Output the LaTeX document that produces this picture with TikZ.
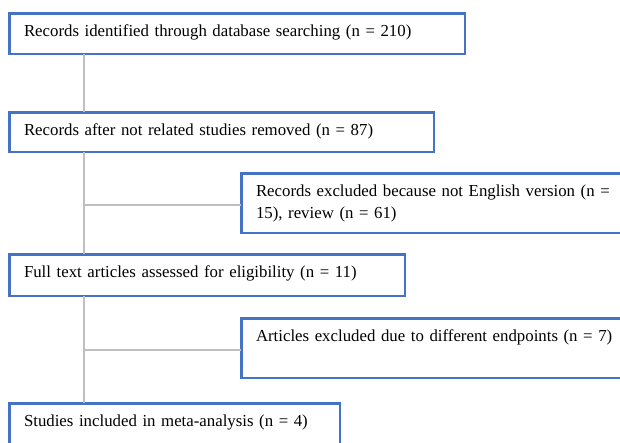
\documentclass[tikz,border=0pt]{standalone}
\usepackage{fontspec}
\setmainfont{Liberation Serif}
\definecolor{boxblue}{RGB}{68,114,196}
\definecolor{linkgray}{RGB}{191,191,191}
\newcommand\stagefont{\fontsize{16.8}{22}\selectfont}
\begin{document}
\begin{tikzpicture}[x=1pt, y=1pt,
    stage/.style={draw=boxblue, line width=2.5pt, anchor=north west, outer sep=0pt,
        inner xsep=14.75pt, inner ysep=0pt, align=left, text height=22.75pt,
        font=\stagefont},
    link/.style={draw=linkgray, line width=1.3pt}]
    \clip (0,0) rectangle (620,-442);
    %nodes
    \node[stage, text width=426pt, text depth=17.75pt] at (9.25,-13.25) (found) {Records identified through database searching (n = 210)};
    \node[stage, text width=395pt, text depth=16.75pt] at (9.25,-112.25) (screened) {Records after not related studies removed (n = 87)};
    \node[stage, text width=364pt, text depth=36.75pt] at (241.25,-173.25) (dropped) {Records excluded because not English version (n = 15), review (n = 61)};
    \node[stage, text width=366pt, text depth=18.75pt] at (9.25,-254.25) (fulltext) {Full text articles assessed for eligibility (n = 11)};
    \node[stage, text width=390pt, text depth=36.75pt] at (241.25,-318.25) (excluded) {Articles excluded due to different endpoints (n = 7)};
    \node[stage, text width=301pt, text depth=27pt] at (9.25,-403.25) (included) {Studies included in meta-analysis (n = 4)};
    %connectors
    \coordinate (spine) at ([xshift=74.75pt]found.south west);
    \path[link]
        (spine) -- (spine |- screened.north)
        (spine |- screened.south) -- (spine |- fulltext.north)
        (spine |- fulltext.south) -- (spine |- included.north)
        ([yshift=-2pt]spine |- dropped.west) -- ([yshift=-2pt]dropped.west)
        ([yshift=-2pt]spine |- excluded.west) -- ([yshift=-2pt]excluded.west);
\end{tikzpicture}
\end{document}
